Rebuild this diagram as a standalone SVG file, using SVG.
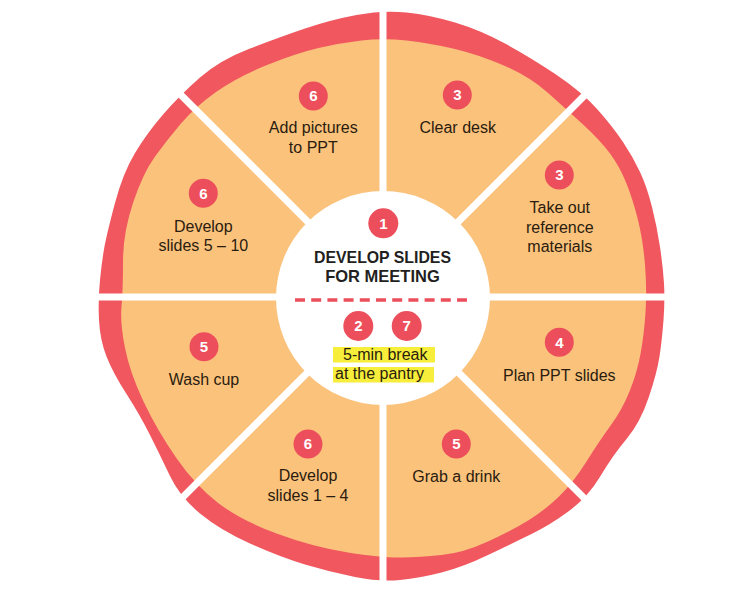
<svg xmlns="http://www.w3.org/2000/svg" width="749" height="593" viewBox="0 0 749 593">
<style>
.crust{fill:#F0575F}
.dough{fill:#FBC27C}
.div{stroke:#FFFFFF;stroke-width:7;fill:none}
.badge circle{fill:#EC4F5B}
.badge text{fill:#FFFFFF;font-family:'Liberation Sans',Arial,sans-serif;font-weight:700;font-size:15px;text-anchor:middle}
.lbl{fill:#2A1C0E;font-family:'Liberation Sans',Arial,sans-serif;font-size:16px;text-anchor:middle}
.lft{text-anchor:start}
.title{fill:#231F20;font-family:'Liberation Sans',Arial,sans-serif;font-weight:700;font-size:16.5px;text-anchor:middle}
.hl{fill:#F7EE3C}
</style>
<rect width="749" height="593" fill="#FFFFFF"/>
<g id="pizza">
<path class="crust" d="M356.5,15 Q383,10 406.5,12.5 Q430,15 455,22.5 Q480,30 505,43.5 Q530,57 556,74.5 Q582,92 597.5,109.5 Q613,127 623,142 Q633,157 640,172 Q647,187 652,207 Q657,227 660,247 Q663,267 664,283.5 Q665,300 663.5,320 Q662,340 659.5,356.5 Q657,373 648.5,398 Q640,423 626.5,439 Q613,455 600.5,476 Q588,497 569,511 Q550,525 531.5,534 Q513,543 488,555 Q463,567 441.5,572.5 Q420,578 400,580 Q380,582 355,577 Q330,572 305,564.5 Q280,557 250,543.5 Q220,530 200,513.5 Q180,497 170,476 Q160,455 150,435 Q140,415 126.5,394 Q113,373 106.5,356.5 Q100,340 99,320 Q98,300 100,280 Q102,260 104.5,246.5 Q107,233 115,203 Q123,173 135,153 Q147,133 163.5,114 Q180,95 200,77.5 Q220,60 250,48.5 Q280,37 305,28.5 Q330,20 356.5,15 Z"/>
<path class="dough" d="M361.5,40.5 Q383,38 406.5,40.5 Q430,43 455,49 Q480,55 505,66 Q530,77 547.5,92.5 Q565,108 582.5,124 Q600,140 610,153.5 Q620,167 626.5,183.5 Q633,200 638,220 Q643,240 645,265 Q647,290 645.5,312.5 Q644,335 640.5,354 Q637,373 629.5,391.5 Q622,410 611,425 Q600,440 586.5,461.5 Q573,483 559,496.5 Q545,510 529,520 Q513,530 488,541.5 Q463,553 441.5,555 Q420,557 401.5,557.5 Q383,558 348,552.5 Q313,547 276.5,533.5 Q240,520 217.5,502.5 Q195,485 176,457.5 Q157,430 143.5,401.5 Q130,373 125,348 Q120,323 121.5,306.5 Q123,290 123,261.5 Q123,233 133,203 Q143,173 155,156.5 Q167,140 181,123.5 Q195,107 216,92 Q237,77 267,65 Q297,53 318.5,48 Q340,43 361.5,40.5 Z"/>
</g>
<g id="connectors">
<line class="div" x1="383" y1="0" x2="383" y2="593"/>
<line class="div" x1="80" y1="297" x2="690" y2="297"/>
<line class="div" x1="165" y1="79" x2="601" y2="515"/>
<line class="div" x1="601" y1="79" x2="165" y2="515"/>
</g>
<g id="center">
<circle cx="383" cy="298" r="107" fill="#FFFFFF"/>
<g class="badge"><circle cx="383.3" cy="223.3" r="15"/><text x="383.3" y="228.6">1</text></g>
<text class="title" x="382.5" y="262.7" textLength="137" lengthAdjust="spacingAndGlyphs">DEVELOP SLIDES</text>
<text class="title" x="382.5" y="282">FOR MEETING</text>
<line x1="295" y1="300" x2="467" y2="300" stroke="#EC4F5B" stroke-width="3.3" stroke-dasharray="10 6.2"/>
<g class="badge"><circle cx="358.3" cy="326" r="15"/><text x="358.3" y="331.3">2</text></g>
<g class="badge"><circle cx="406.7" cy="326" r="15"/><text x="406.7" y="331.3">7</text></g>
<rect class="hl" x="333" y="347" width="102" height="15.5"/>
<rect class="hl" x="333" y="367" width="101" height="15.5"/>
<text class="lbl lft" x="343" y="359.5">5-min break</text>
<text class="lbl lft" x="335" y="378.5">at the pantry</text>
</g>
<g id="add-pictures">
<g class="badge"><circle cx="313.3" cy="96" r="14.5"/><text x="313.3" y="101.3">6</text></g>
<text class="lbl" x="313.3" y="133.3">Add pictures</text>
<text class="lbl" x="313.3" y="153.3">to PPT</text>
</g>
<g id="develop-5-10">
<g class="badge"><circle cx="203.3" cy="193.3" r="14.5"/><text x="203.3" y="198.6">6</text></g>
<text class="lbl" x="203.3" y="231.7">Develop</text>
<text class="lbl" x="203.3" y="250.7">slides 5 – 10</text>
</g>
<g id="clear-desk">
<g class="badge"><circle cx="457.3" cy="95" r="14.5"/><text x="457.3" y="100.3">3</text></g>
<text class="lbl" x="457.7" y="132.7">Clear desk</text>
</g>
<g id="take-out">
<g class="badge"><circle cx="559.3" cy="175" r="14.5"/><text x="559.3" y="180.3">3</text></g>
<text class="lbl" x="559.8" y="213.3">Take out</text>
<text class="lbl" x="559.8" y="232.7">reference</text>
<text class="lbl" x="559.8" y="252">materials</text>
</g>
<g id="wash-cup">
<g class="badge"><circle cx="204" cy="346.7" r="14.5"/><text x="204" y="352">5</text></g>
<text class="lbl" x="204" y="385">Wash cup</text>
</g>
<g id="develop-1-4">
<g class="badge"><circle cx="308" cy="444" r="14.5"/><text x="308" y="449.3">6</text></g>
<text class="lbl" x="308" y="481">Develop</text>
<text class="lbl" x="308" y="500.7">slides 1 – 4</text>
</g>
<g id="plan-ppt">
<g class="badge"><circle cx="559.3" cy="342.3" r="14.5"/><text x="559.3" y="347.6">4</text></g>
<text class="lbl" x="559.3" y="380.7">Plan PPT slides</text>
</g>
<g id="grab-drink">
<g class="badge"><circle cx="456.3" cy="444" r="14.5"/><text x="456.3" y="449.3">5</text></g>
<text class="lbl" x="456.3" y="482.3">Grab a drink</text>
</g>
</svg>
